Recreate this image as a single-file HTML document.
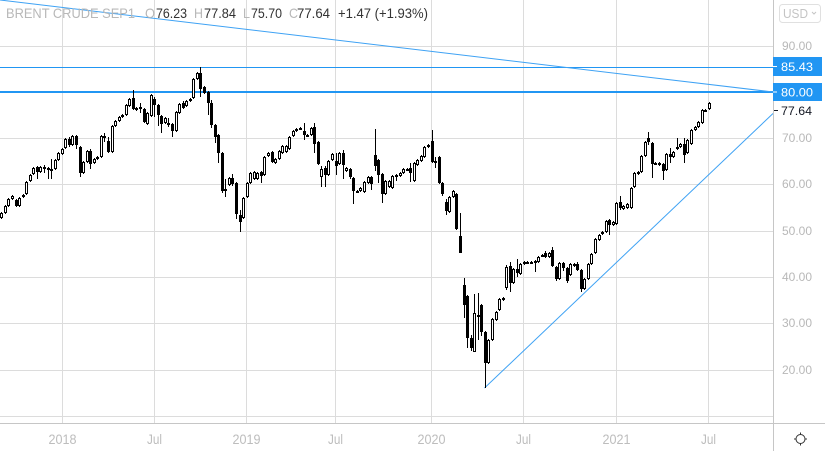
<!DOCTYPE html>
<html><head><meta charset="utf-8"><style>
html,body{margin:0;padding:0;background:#fff;}
svg{display:block;}
text{font-family:"Liberation Sans",Arial,sans-serif;}
</style></head><body>
<svg width="825" height="451" viewBox="0 0 825 451" xmlns="http://www.w3.org/2000/svg">
<rect width="825" height="451" fill="#fff"/>
<!-- grid -->
<g stroke="#dcdcdc" stroke-width="1">
<path d="M0 46.5H773M0 138.5H773M0 184.5H773M0 231.5H773M0 277.5H773M0 323.5H773M0 370.5H773M0 416.5H773"/>
<path d="M62.5 0V423M154.5 0V423M246.5 0V423M335.5 0V423M431.5 0V423M523.5 0V423M616.5 0V423M708.5 0V423"/>
</g>
<!-- blue drawings -->
<line x1="0" y1="67.5" x2="773" y2="67.5" stroke="#2196f3" stroke-width="1"/>
<line x1="0" y1="92" x2="773" y2="92" stroke="#2196f3" stroke-width="2"/>
<line x1="0" y1="0" x2="773" y2="92" stroke="#3ea2f4" stroke-width="1"/>
<line x1="484.5" y1="388" x2="773" y2="113.5" stroke="#3ea2f4" stroke-width="1"/>
<!-- header -->
<g font-size="14">
<text x="6" y="18" fill="#b8b8b8" textLength="129" lengthAdjust="spacingAndGlyphs">BRENT CRUDE SEP1</text>
<text x="145" y="18" fill="#b8b8b8" textLength="10" lengthAdjust="spacingAndGlyphs">O</text>
<text x="156" y="18" fill="#333" textLength="31" lengthAdjust="spacingAndGlyphs">76.23</text>
<text x="194" y="18" fill="#b8b8b8" textLength="9" lengthAdjust="spacingAndGlyphs">H</text>
<text x="204" y="18" fill="#333" textLength="32" lengthAdjust="spacingAndGlyphs">77.84</text>
<text x="243" y="18" fill="#b8b8b8" textLength="7" lengthAdjust="spacingAndGlyphs">L</text>
<text x="251" y="18" fill="#333" textLength="31" lengthAdjust="spacingAndGlyphs">75.70</text>
<text x="289" y="18" fill="#b8b8b8" textLength="9" lengthAdjust="spacingAndGlyphs">C</text>
<text x="297" y="18" fill="#333" textLength="33" lengthAdjust="spacingAndGlyphs">77.64</text>
<text x="338" y="18" fill="#333" textLength="90" lengthAdjust="spacingAndGlyphs">+1.47 (+1.93%)</text>
</g>
<!-- wicks -->
<path fill="none" stroke="#000" stroke-width="1" d="M1.5 212V219M5.5 205V214M8.5 198V207M12.5 195V200M16.5 199V207M19.5 197V207M23.5 194V198M26.5 181V195M30.5 174V182M33.5 167V175M37.5 166V179M40.5 166V173M44.5 165V173M48.5 167V179M51.5 159V179M55.5 159V170M58.5 152V161M62.5 148V155M65.5 138V149M69.5 137V147M72.5 135V146M76.5 135V149M80.5 146V177M83.5 161V174M87.5 150V163M90.5 149V169M94.5 158V164M97.5 156V160M101.5 135V158M104.5 133V142M108.5 137V153M112.5 125V153M115.5 120V127M119.5 116V122M122.5 114V118M126.5 104V116M129.5 98V107M133.5 90V110M136.5 107V111M140.5 103V113M144.5 108V123M147.5 112V125M151.5 94V117M154.5 97V117M158.5 104V126M161.5 115V133M165.5 117V124M168.5 118V127M172.5 123V137M176.5 111V132M179.5 103V114M183.5 101V109M186.5 100V107M190.5 98V102M193.5 78V99M197.5 72V80M200.5 67V97M204.5 86V94M208.5 91V115M211.5 100V128M215.5 124V143M218.5 134V163M222.5 152V193M225.5 179V197M229.5 177V186M232.5 174V186M236.5 182V219M240.5 210V232M243.5 197V219M247.5 182V198M250.5 172V184M254.5 171V180M257.5 172V180M261.5 171V183M264.5 156V176M268.5 152V157M272.5 151V163M275.5 158V164M279.5 150V160M282.5 145V154M286.5 145V153M289.5 136V150M293.5 130V137M296.5 128V132M300.5 127V130M304.5 123V140M307.5 134V137M311.5 127V136M314.5 123V153M318.5 141V165M321.5 166V187M325.5 166V187M328.5 160V176M332.5 153V161M336.5 153V175M339.5 152V165M343.5 150V179M346.5 167V172M350.5 168V179M353.5 177V204M357.5 190V193M360.5 187V192M364.5 181V193M368.5 176V184M371.5 176V190M375.5 129V171M378.5 159V183M382.5 173V203M385.5 180V195M389.5 180V188M392.5 175V189M396.5 174V181M400.5 172V177M403.5 168V174M407.5 168V171M410.5 163V182M414.5 162V182M417.5 159V166M421.5 155V162M424.5 146V158M428.5 144V148M432.5 130V163M435.5 157V168M439.5 156V184M442.5 182V196M446.5 199V215M449.5 196V213M453.5 190V198M456.5 193V230M460.5 213V253M464.5 278V318M467.5 295V348M471.5 335V351M474.5 294V352M478.5 293V340M481.5 304V336M485.5 331V388M488.5 339V364M492.5 318V341M496.5 311V321M499.5 298V311M503.5 297V301M506.5 265V290M510.5 262V292M513.5 268V284M517.5 259V277M520.5 263V275M524.5 261V265M527.5 261V264M531.5 261V264M535.5 260V272M538.5 256V263M542.5 254V257M545.5 251V258M549.5 252V258M552.5 247V267M556.5 266V281M559.5 262V280M563.5 262V271M567.5 267V283M570.5 263V276M574.5 263V267M577.5 262V271M581.5 269V292M584.5 278V290M588.5 263V280M591.5 253V265M595.5 238V254M599.5 234V241M602.5 231V235M606.5 220V233M609.5 219V235M613.5 221V226M616.5 202V225M620.5 196V210M623.5 205V210M627.5 203V209M631.5 187V209M634.5 172V188M638.5 171V175M641.5 155V173M645.5 141V157M648.5 132V145M652.5 142V178M655.5 162V165M659.5 162V166M663.5 163V180M666.5 153V171M670.5 148V163M673.5 151V158M677.5 138V150M680.5 143V148M684.5 138V163M687.5 139V154M691.5 129V145M695.5 126V131M698.5 121V128M702.5 109V124M705.5 109V112M709.5 102V110"/>
<!-- filled (down) bodies -->
<path fill="#000" d="M15 200h3V206h-3zM36 167h3V172h-3zM43 167h3V169h-3zM47 168h3V170h-3zM68 139h3V145h-3zM75 136h3V145h-3zM79 147h3V173h-3zM89 151h3V164h-3zM103 136h3V138h-3zM107 141h3V152h-3zM132 98h3V109h-3zM139 107h3V109h-3zM143 109h3V122h-3zM153 99h3V105h-3zM157 105h3V115h-3zM160 116h3V124h-3zM167 123h3V125h-3zM171 124h3V131h-3zM182 103h3V108h-3zM199 73h3V89h-3zM203 87h3V93h-3zM207 92h3V103h-3zM210 103h3V125h-3zM214 125h3V137h-3zM217 135h3V153h-3zM221 153h3V191h-3zM224 189h3V191h-3zM231 178h3V184h-3zM235 183h3V214h-3zM239 215h3V222h-3zM260 172h3V176h-3zM271 152h3V162h-3zM299 128h3V130h-3zM303 131h3V135h-3zM306 135h3V137h-3zM313 127h3V144h-3zM317 142h3V164h-3zM324 168h3V175h-3zM335 161h3V166h-3zM342 153h3V165h-3zM349 169h3V177h-3zM352 178h3V191h-3zM356 191h3V193h-3zM370 177h3V184h-3zM374 155h3V166h-3zM377 160h3V175h-3zM381 174h3V194h-3zM406 169h3V171h-3zM409 168h3V173h-3zM431 141h3V162h-3zM434 161h3V163h-3zM438 157h3V183h-3zM441 183h3V194h-3zM445 202h3V211h-3zM455 194h3V229h-3zM459 236h3V253h-3zM463 285h3V305h-3zM466 296h3V338h-3zM470 338h3V348h-3zM477 315h3V317h-3zM480 305h3V332h-3zM484 332h3V363h-3zM509 266h3V283h-3zM516 269h3V273h-3zM526 262h3V264h-3zM530 262h3V264h-3zM534 261h3V263h-3zM541 255h3V257h-3zM544 253h3V257h-3zM551 250h3V266h-3zM555 267h3V279h-3zM562 263h3V268h-3zM566 268h3V281h-3zM576 264h3V270h-3zM580 270h3V289h-3zM608 220h3V225h-3zM619 202h3V208h-3zM647 138h3V142h-3zM651 143h3V164h-3zM654 163h3V165h-3zM658 163h3V165h-3zM662 164h3V171h-3zM669 154h3V157h-3zM676 147h3V149h-3zM683 144h3V155h-3zM704 110h3V112h-3z"/>
<!-- hollow (up) bodies -->
<path fill="#fff" stroke="#000" stroke-width="1" d="M0.5 213.5h2V217.5h-2zM4.5 206.5h2V212.5h-2zM7.5 199.5h2V205.5h-2zM11.5 196.5h2V198.5h-2zM18.5 198.5h2V205.5h-2zM22.5 195.5h2V196.5h-2zM25.5 182.5h2V193.5h-2zM29.5 175.5h2V180.5h-2zM32.5 168.5h2V173.5h-2zM39.5 167.5h2V171.5h-2zM50.5 169.5h2V170.5h-2zM54.5 160.5h2V168.5h-2zM57.5 153.5h2V159.5h-2zM61.5 149.5h2V153.5h-2zM64.5 139.5h2V147.5h-2zM71.5 136.5h2V144.5h-2zM82.5 162.5h2V172.5h-2zM86.5 151.5h2V161.5h-2zM93.5 159.5h2V162.5h-2zM96.5 157.5h2V158.5h-2zM100.5 136.5h2V156.5h-2zM111.5 126.5h2V151.5h-2zM114.5 121.5h2V125.5h-2zM118.5 117.5h2V120.5h-2zM121.5 115.5h2V116.5h-2zM125.5 105.5h2V114.5h-2zM128.5 99.5h2V105.5h-2zM135.5 108.5h2V109.5h-2zM146.5 113.5h2V123.5h-2zM150.5 95.5h2V115.5h-2zM164.5 118.5h2V122.5h-2zM175.5 112.5h2V130.5h-2zM178.5 104.5h2V112.5h-2zM185.5 101.5h2V105.5h-2zM189.5 99.5h2V100.5h-2zM192.5 79.5h2V97.5h-2zM196.5 73.5h2V78.5h-2zM228.5 178.5h2V184.5h-2zM242.5 198.5h2V217.5h-2zM246.5 183.5h2V196.5h-2zM249.5 173.5h2V182.5h-2zM253.5 172.5h2V178.5h-2zM256.5 173.5h2V178.5h-2zM263.5 157.5h2V174.5h-2zM267.5 153.5h2V155.5h-2zM274.5 159.5h2V162.5h-2zM278.5 151.5h2V158.5h-2zM281.5 146.5h2V152.5h-2zM285.5 146.5h2V151.5h-2zM288.5 137.5h2V148.5h-2zM292.5 131.5h2V135.5h-2zM295.5 129.5h2V130.5h-2zM310.5 128.5h2V134.5h-2zM320.5 169.5h2V176.5h-2zM327.5 161.5h2V174.5h-2zM331.5 154.5h2V159.5h-2zM338.5 153.5h2V163.5h-2zM345.5 168.5h2V170.5h-2zM359.5 188.5h2V190.5h-2zM363.5 182.5h2V191.5h-2zM367.5 177.5h2V182.5h-2zM384.5 181.5h2V193.5h-2zM388.5 181.5h2V186.5h-2zM391.5 176.5h2V187.5h-2zM395.5 175.5h2V176.5h-2zM399.5 173.5h2V175.5h-2zM402.5 169.5h2V172.5h-2zM413.5 163.5h2V180.5h-2zM416.5 160.5h2V164.5h-2zM420.5 156.5h2V160.5h-2zM423.5 147.5h2V156.5h-2zM427.5 145.5h2V146.5h-2zM448.5 197.5h2V211.5h-2zM452.5 191.5h2V196.5h-2zM473.5 313.5h2V351.5h-2zM487.5 340.5h2V362.5h-2zM491.5 319.5h2V339.5h-2zM495.5 312.5h2V319.5h-2zM498.5 299.5h2V309.5h-2zM502.5 298.5h2V299.5h-2zM505.5 267.5h2V287.5h-2zM512.5 269.5h2V282.5h-2zM519.5 264.5h2V273.5h-2zM523.5 262.5h2V263.5h-2zM537.5 257.5h2V261.5h-2zM548.5 253.5h2V256.5h-2zM558.5 263.5h2V278.5h-2zM569.5 264.5h2V274.5h-2zM573.5 264.5h2V265.5h-2zM583.5 279.5h2V288.5h-2zM587.5 264.5h2V278.5h-2zM590.5 254.5h2V263.5h-2zM594.5 239.5h2V252.5h-2zM598.5 235.5h2V239.5h-2zM601.5 232.5h2V233.5h-2zM605.5 221.5h2V231.5h-2zM612.5 222.5h2V224.5h-2zM615.5 203.5h2V223.5h-2zM622.5 206.5h2V208.5h-2zM626.5 204.5h2V207.5h-2zM630.5 188.5h2V207.5h-2zM633.5 173.5h2V186.5h-2zM637.5 172.5h2V173.5h-2zM640.5 156.5h2V171.5h-2zM644.5 142.5h2V155.5h-2zM665.5 154.5h2V169.5h-2zM672.5 152.5h2V156.5h-2zM679.5 144.5h2V146.5h-2zM686.5 140.5h2V152.5h-2zM690.5 130.5h2V143.5h-2zM694.5 127.5h2V129.5h-2zM697.5 122.5h2V126.5h-2zM701.5 110.5h2V122.5h-2zM708.5 103.5h2V108.5h-2z"/>
<!-- axes borders -->
<path d="M0 423.5H825M773.5 0V451" stroke="#c6c6c6" stroke-width="1" fill="none"/>
<!-- price axis labels -->
<g font-size="12" fill="#b8b8b8">
<text x="782" y="50" textLength="30" lengthAdjust="spacingAndGlyphs">90.00</text>
<text x="782" y="142" textLength="30" lengthAdjust="spacingAndGlyphs">70.00</text>
<text x="782" y="188" textLength="30" lengthAdjust="spacingAndGlyphs">60.00</text>
<text x="782" y="235" textLength="30" lengthAdjust="spacingAndGlyphs">50.00</text>
<text x="782" y="281" textLength="30" lengthAdjust="spacingAndGlyphs">40.00</text>
<text x="782" y="327" textLength="30" lengthAdjust="spacingAndGlyphs">30.00</text>
<text x="782" y="374" textLength="30" lengthAdjust="spacingAndGlyphs">20.00</text>
</g>
<rect x="773" y="57" width="49" height="19" fill="#2196f3"/>
<rect x="773" y="83" width="49" height="18" fill="#2196f3"/>
<path d="M773 66.5h4M773 92h4" stroke="#fff" stroke-width="1"/>
<g font-size="12" fill="#fff">
<text x="781" y="71" textLength="32" lengthAdjust="spacingAndGlyphs">85.43</text>
<text x="781" y="96.5" textLength="32" lengthAdjust="spacingAndGlyphs">80.00</text>
</g>
<path d="M774 110.5h4" stroke="#131722" stroke-width="1"/>
<text x="781" y="115" font-size="12" fill="#131722" textLength="31" lengthAdjust="spacingAndGlyphs">77.64</text>
<!-- USD button -->
<rect x="779.5" y="4.5" width="41" height="18" rx="3" fill="#fff" stroke="#e0e0e0"/>
<text x="783" y="18" font-size="13" fill="#c4c4c4" textLength="25" lengthAdjust="spacingAndGlyphs">USD</text>
<path d="M812 12l2 2 2-2" stroke="#c4c4c4" stroke-width="1" fill="none"/>
<!-- time axis labels -->
<g font-size="14" fill="#bdbdbd" text-anchor="middle">
<text x="62.5" y="444" textLength="28" lengthAdjust="spacingAndGlyphs">2018</text>
<text x="154.5" y="444" textLength="15" lengthAdjust="spacingAndGlyphs">Jul</text>
<text x="246.5" y="444" textLength="28" lengthAdjust="spacingAndGlyphs">2019</text>
<text x="335.5" y="444" textLength="15" lengthAdjust="spacingAndGlyphs">Jul</text>
<text x="431.5" y="444" textLength="28" lengthAdjust="spacingAndGlyphs">2020</text>
<text x="523.5" y="444" textLength="15" lengthAdjust="spacingAndGlyphs">Jul</text>
<text x="616.5" y="444" textLength="28" lengthAdjust="spacingAndGlyphs">2021</text>
<text x="708.5" y="444" textLength="15" lengthAdjust="spacingAndGlyphs">Jul</text>
</g>
<!-- gear -->
<circle cx="800.5" cy="439" r="4.5" fill="none" stroke="#333" stroke-width="1"/>
<path d="M800.5 432.5v2M800.5 443.5v2M794 439h2M805 439h2" stroke="#333" stroke-width="1"/>
</svg>
</body></html>
